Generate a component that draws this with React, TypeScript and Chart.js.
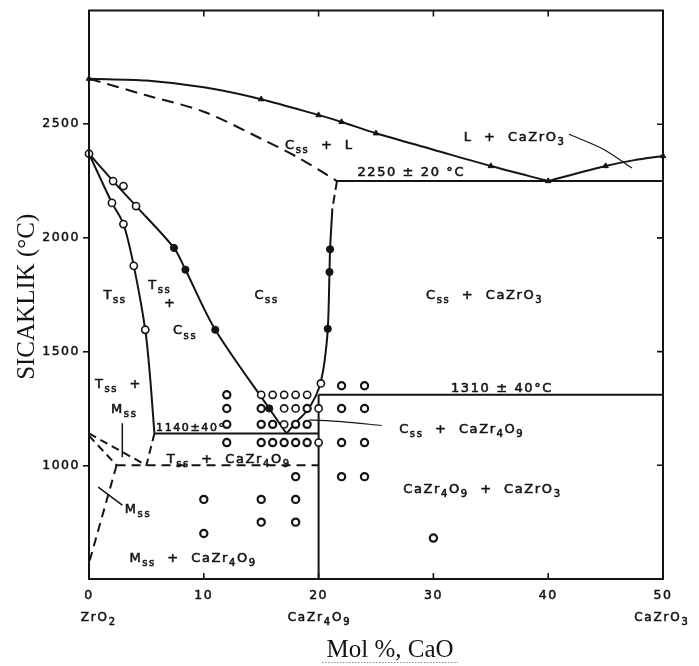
import { useEffect, useRef } from 'react';
import { Chart, registerables } from 'chart.js';

Chart.register(...registerables);

// ---- Phase boundaries of the ZrO2 – CaZrO3 system (x: mol % CaO, y: °C) ----
const liquidusLeft = [[0, 2700], [5, 2692], [10, 2662], [15, 2610], [20, 2540], [22, 2510], [25, 2460], [30, 2388], [35, 2316], [40, 2250]];
const liquidusRight = [[40, 2250], [45, 2316], [47.5, 2342], [50, 2360]];
const cssSolidus = [[0, 2700], [5, 2627], [10, 2555], [15, 2436], [18.3, 2351], [21.6, 2250]];
const eutectic2250 = [[21.6, 2250], [50, 2250]];
const cssRightUpper = [[21.6, 2250], [21.2, 2130]];
const cssRightSolvus = [[21.2, 2130], [21, 1950], [20.95, 1850], [20.8, 1600], [20.5, 1450], [20.2, 1370], [19.8, 1310], [19, 1241], [18.1, 1193], [17.2, 1140]];
const cssLeftSolvus = [[0, 2370], [2.1, 2250], [4.1, 2140], [7.4, 1956], [8.4, 1860], [11, 1596], [15.7, 1250], [17.2, 1140]];
const tssSolvus = [[0, 2370], [2, 2154], [3, 2061], [3.9, 1877], [4.9, 1596], [5.3, 1400], [5.7, 1140]];
const eutectoid1140 = [[5.7, 1140], [20, 1140]];
const compoundLine = [[20, 500], [20, 1310]];
const decomp1310 = [[20, 1310], [50, 1310]];
const tssLowerDashed = [[5.7, 1140], [5, 1000]];
const mssUpperA = [[0, 1140], [5, 1000]];
const mssUpperB = [[0, 1130], [2.4, 1000]];
const line1000 = [[2.4, 1000], [20, 1000]];
const mssLower = [[2.4, 1000], [0, 570]];

// leader lines from region labels
const leaderTssMss = [[2.9, 1185], [2.9, 1035]];
const leaderMss = [[0.8, 904], [2.9, 825]];
const leaderCssCaZr4O9 = [[19.2, 1200], [22, 1192], [25.5, 1175]];
const leaderLiquid = [[41.8, 2456], [44.8, 2390], [47.3, 2307]];

// ---- experimental points ----
const liquidusPoints = [[0, 2700], [15, 2610], [20, 2540], [22, 2510], [25, 2460], [35, 2316], [40, 2250], [45, 2316], [50, 2360]];
const openPoints = [[0, 2370], [2.1, 2250], [3, 2228], [4.1, 2140], [2, 2154], [3, 2061], [3.9, 1877], [4.9, 1596],
  [15, 1310], [16, 1310], [17, 1310], [18, 1310], [19, 1310], [20.2, 1360], [17, 1250], [18, 1250], [20, 1250], [17, 1180], [20, 1100]];
const filledPoints = [[7.4, 1956], [8.4, 1860], [11, 1596], [15.7, 1250], [21, 1950], [20.95, 1850], [20.8, 1600]];
const ringPoints = [[12, 1310], [12, 1250], [12, 1180], [12, 1100], [15, 1250], [19, 1250], [15, 1180], [16, 1180], [18, 1180], [19, 1180],
  [15, 1100], [16, 1100], [17, 1100], [18, 1100], [19, 1100], [22, 1350], [24, 1350], [22, 1250], [24, 1250], [22, 1100], [24, 1100],
  [22, 950], [24, 950], [18, 950], [10, 850], [15, 850], [18, 850], [15, 750], [18, 750], [10, 700], [30, 680]];

// ---- axes ----
const xTickValues = [0, 10, 20, 30, 40, 50];
const xTickNames = ['0', '10', '20', '30', '40', '50'];
const xTickCompounds = ['ZrO_{2}', '', 'CaZr_{4}O_{9}', '', '', 'CaZrO_{3}'];
const yTickValues = [1000, 1500, 2000, 2500];
const innerTickX = [10, 20, 30, 40];

// region labels: text (with _{} subscripts), x, y, font size
const regionLabels: [string, number, number, number][] = [
  ['C_{ss}  +  L', 20, 2412, 13],
  ['L  +  CaZrO_{3}', 37, 2447, 13],
  ['2250 ± 20 °C', 28, 2294, 13],
  ['C_{ss}', 15.4, 1754, 13],
  ['C_{ss}  +  CaZrO_{3}', 34.4, 1754, 13],
  ['T_{ss}', 2.2, 1754, 13],
  ['T_{ss}', 6.1, 1798, 13],
  ['+', 7.0, 1715, 13],
  ['C_{ss}', 8.3, 1596, 13],
  ['T_{ss}  +', 2.5, 1360, 13],
  ['M_{ss}', 3.0, 1250, 13],
  ['1140±40°', 8.8, 1167, 11],
  ['1310 ± 40°C', 35.9, 1342, 13],
  ['C_{ss}  +  CaZr_{4}O_{9}', 32.4, 1162, 13],
  ['T_{ss}  +  CaZr_{4}O_{9}', 12.1, 1030, 13],
  ['CaZr_{4}O_{9}  +  CaZrO_{3}', 34.2, 899, 13],
  ['M_{ss}', 4.2, 811, 13],
  ['M_{ss}  +  CaZr_{4}O_{9}', 9.0, 596, 13],
];

const SANS = '"DejaVu Sans", sans-serif';
const SERIF = '"Liberation Serif", "Times New Roman", serif';
const INK = '#141414';

const toXY = (a: number[][]) => a.map(([x, y]) => ({ x, y }));

function drawRich(ctx: CanvasRenderingContext2D, text: string, cx: number, cy: number, size: number, spacing: number) {
  const parts: { s: string; sub: boolean }[] = [];
  const re = /_\{([^}]*)\}/g;
  let last = 0;
  let m: RegExpExecArray | null;
  while ((m = re.exec(text))) {
    if (m.index > last) parts.push({ s: text.slice(last, m.index), sub: false });
    parts.push({ s: m[1], sub: true });
    last = re.lastIndex;
  }
  if (last < text.length) parts.push({ s: text.slice(last), sub: false });
  const subSize = Math.round(size * 0.8);
  ctx.save();
  (ctx as any).letterSpacing = spacing + 'px';
  let total = 0;
  const widths = parts.map((p) => {
    ctx.font = `${p.sub ? subSize : size}px ${SANS}`;
    const w = ctx.measureText(p.s).width;
    total += w;
    return w;
  });
  total -= spacing;
  let x = cx - total / 2;
  const base = cy + size * 0.36;
  ctx.fillStyle = INK;
  ctx.strokeStyle = INK;
  ctx.lineWidth = 0.55;
  ctx.textAlign = 'left';
  ctx.textBaseline = 'alphabetic';
  parts.forEach((p, i) => {
    ctx.font = `${p.sub ? subSize : size}px ${SANS}`;
    const y = p.sub ? base + size * 0.32 : base;
    ctx.fillText(p.s, x, y);
    ctx.strokeText(p.s, x, y);
    x += widths[i];
  });
  ctx.restore();
}

function lineSet(data: number[][], opts: { dash?: number[]; width?: number; tension?: number } = {}) {
  return {
    data: toXY(data),
    showLine: true,
    borderColor: INK,
    borderWidth: opts.width ?? 2,
    borderDash: opts.dash ?? [],
    tension: opts.tension ?? 0,
    pointRadius: 0,
    fill: false,
    order: 2,
  };
}

function markerSet(data: number[][], style: any, bg: string, border: number, radius = 3.6) {
  return {
    data: toXY(data),
    showLine: false,
    pointStyle: style,
    pointRadius: radius,
    pointBackgroundColor: bg,
    pointBorderColor: INK,
    pointBorderWidth: border,
    clip: false,
    order: 1,
  };
}

const decorPlugin = {
  id: 'decor',
  beforeDraw(chart: any) {
    chart.ctx.letterSpacing = '1.5px';
  },
  afterDraw(chart: any) {
    const { ctx, chartArea: a, scales } = chart;
    const xs = scales.x;
    const ys = scales.y;
    ctx.save();
    ctx.letterSpacing = '0px';
    // frame
    ctx.strokeStyle = INK;
    ctx.lineWidth = 2;
    ctx.strokeRect(a.left, a.top, a.right - a.left, a.bottom - a.top);
    // inward ticks on top, bottom and right
    ctx.lineWidth = 1.6;
    ctx.beginPath();
    innerTickX.forEach((v) => {
      const px = xs.getPixelForValue(v);
      ctx.moveTo(px, a.top);
      ctx.lineTo(px, a.top + 6);
      ctx.moveTo(px, a.bottom);
      ctx.lineTo(px, a.bottom - 6);
    });
    yTickValues.forEach((v) => {
      const py = ys.getPixelForValue(v);
      ctx.moveTo(a.right, py);
      ctx.lineTo(a.right - 6, py);
    });
    ctx.stroke();

    // region labels
    regionLabels.forEach(([t, x, y, s]) => {
      drawRich(ctx, t, xs.getPixelForValue(x), ys.getPixelForValue(y), s, 1.6);
    });

    // compound names under the x ticks
    xTickValues.forEach((v, i) => {
      const t = xTickCompounds[i];
      if (!t) return;
      const shift = i === 0 ? 9 : i === xTickValues.length - 1 ? -2 : 0;
      drawRich(ctx, t, xs.getPixelForValue(v) + shift, a.bottom + 38, 12, 1.8);
    });

    // axis titles
    ctx.fillStyle = INK;
    ctx.font = `25px ${SERIF}`;
    ctx.textAlign = 'center';
    ctx.textBaseline = 'middle';
    ctx.save();
    ctx.translate(27, (a.top + a.bottom) / 2 + 2);
    ctx.rotate(-Math.PI / 2);
    ctx.fillText('SICAKLIK (°C)', 0, 0);
    ctx.restore();
    ctx.fillText('Mol %, CaO', 390, 650);
    // dotted underline beneath the x title
    ctx.strokeStyle = '#8a8a8a';
    ctx.lineWidth = 1;
    ctx.setLineDash([1.5, 1.5]);
    ctx.beginPath();
    ctx.moveTo(322, 662.5);
    ctx.lineTo(458, 662.5);
    ctx.stroke();
    ctx.restore();
  },
};

export default function App() {
  const ref = useRef<HTMLCanvasElement>(null);

  useEffect(() => {
    const canvas = ref.current;
    if (!canvas) return;
    const chart = new Chart(canvas, {
      type: 'scatter',
      data: {
        datasets: [
          markerSet(ringPoints, 'circle', '#ffffff', 2.2, 3.6),
          markerSet(ringPoints, 'circle', INK, 0, 1.3),
          markerSet(openPoints, 'circle', '#ffffff', 1.6, 3.6),
          markerSet(filledPoints, 'circle', INK, 1, 3.6),
          markerSet(liquidusPoints, 'triangle', INK, 1, 3.2),
          lineSet(liquidusLeft, { tension: 0.3 }),
          lineSet(liquidusRight, { tension: 0.3 }),
          lineSet(cssSolidus, { dash: [12, 7], tension: 0.3 }),
          lineSet(eutectic2250),
          lineSet(cssRightUpper, { dash: [9, 5] }),
          lineSet(cssRightSolvus, { tension: 0.35 }),
          lineSet(cssLeftSolvus, { tension: 0.3 }),
          lineSet(tssSolvus, { tension: 0.3 }),
          lineSet(eutectoid1140),
          lineSet(compoundLine),
          lineSet(decomp1310),
          lineSet(tssLowerDashed, { dash: [8, 5] }),
          lineSet(mssUpperA, { dash: [8, 5] }),
          lineSet(mssUpperB, { dash: [8, 5] }),
          lineSet(line1000, { dash: [9, 6] }),
          lineSet(mssLower, { dash: [9, 6] }),
          lineSet(leaderTssMss, { width: 1.5 }),
          lineSet(leaderMss, { width: 1.5 }),
          lineSet(leaderCssCaZr4O9, { width: 1.2, tension: 0.3 }),
          lineSet(leaderLiquid, { width: 1.2, tension: 0.3 }),
        ] as any,
      },
      options: {
        animation: false,
        responsive: true,
        maintainAspectRatio: false,
        events: [],
        layout: { padding: { top: 8, right: 36, left: 0, bottom: 0 } },
        plugins: { legend: { display: false }, tooltip: { enabled: false } },
        scales: {
          x: {
            type: 'linear',
            min: 0,
            max: 50,
            afterFit: (s: any) => { s.height = 87; },
            afterBuildTicks: (s: any) => { s.ticks = xTickValues.map((v) => ({ value: v })); },
            ticks: {
              padding: 9,
              color: INK,
              textStrokeColor: INK,
              textStrokeWidth: 0.5,
              font: { family: SANS, size: 12.5 },
              maxRotation: 0,
              callback: (v: any) => {
                const i = xTickValues.indexOf(Number(v));
                return i >= 0 ? xTickNames[i] : '';
              },
            },
            grid: { display: false, drawTicks: false },
            border: { display: false },
          },
          y: {
            type: 'linear',
            min: 500,
            max: 3000,
            afterFit: (s: any) => { s.width = 89; },
            afterBuildTicks: (s: any) => { s.ticks = yTickValues.map((v) => ({ value: v })); },
            ticks: {
              padding: 3,
              color: INK,
              textStrokeColor: INK,
              textStrokeWidth: 0.5,
              font: { family: SANS, size: 12.5 },
              callback: (v: any) => String(v),
            },
            grid: { drawOnChartArea: false, drawTicks: true, tickLength: 6, color: INK, lineWidth: 1.6 },
            border: { display: false },
          },
        },
      },
      plugins: [decorPlugin],
    });
    return () => chart.destroy();
  }, []);

  return (
    <div style={{ position: 'fixed', left: 0, top: 0, width: 699, height: 666, background: '#ffffff' }}>
      <canvas ref={ref} />
    </div>
  );
}
